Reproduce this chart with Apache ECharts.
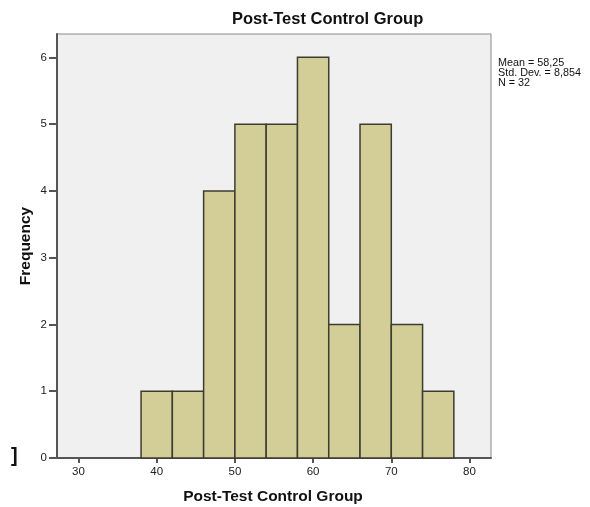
<!DOCTYPE html>
<html>
<head>
<meta charset="utf-8">
<script src="https://cdn.jsdelivr.net/npm/echarts@6/dist/echarts.min.js"></script>
<style>
html,body{margin:0;padding:0;background:#fff;}
#c{width:590px;height:507px;}
</style>
</head>
<body>
<div id="c"></div>
<script>
// Histogram data
const binStarts = [38, 42, 46, 50, 54, 58, 62, 66, 70, 74];
const binWidth = 4;
const frequencies = [1, 1, 4, 5, 5, 6, 2, 5, 2, 1];
const xTicks = [30, 40, 50, 60, 70, 80];
const yTicks = [0, 1, 2, 3, 4, 5, 6];
const titleText = 'Post-Test Control Group';
const xName = 'Post-Test Control Group';
const yName = 'Frequency';
const statsLines = ['Mean = 58,25', 'Std. Dev. = 8,854', 'N = 32'];

const barData = binStarts.map((s, i) => [s, s + binWidth, frequencies[i]]);

const chart = echarts.init(document.getElementById('c'), null, {renderer: 'canvas'});
const font = 'Liberation Sans, Arial, sans-serif';

chart.setOption({
  animation: false,
  backgroundColor: '#ffffff',
  grid: {
    left: 57, right: 99, top: 34, bottom: 49,
    show: true, backgroundColor: '#f0f0f0', borderColor: '#8a8a8a', borderWidth: 1
  },
  xAxis: {
    type: 'value', min: 27.25, max: 82.75,
    axisLine: {show: true, onZero: false, lineStyle: {color: '#555', width: 2}},
    axisTick: {show: true, length: 5, customValues: xTicks, lineStyle: {color: '#555', width: 2}},
    axisLabel: {customValues: xTicks, color: '#222', fontFamily: font, fontSize: 11.5, margin: 8},
    splitLine: {show: false}
  },
  yAxis: {
    type: 'value', min: 0, max: 6.35,
    axisLine: {show: true, lineStyle: {color: '#555', width: 2}},
    axisTick: {show: true, length: 8, customValues: yTicks, lineStyle: {color: '#555', width: 2}},
    axisLabel: {customValues: yTicks, color: '#222', fontFamily: font, fontSize: 11.5, margin: 10},
    splitLine: {show: false}
  },
  series: [{
    type: 'custom',
    data: barData,
    encode: {x: [0, 1], y: 2},
    renderItem: function (params, api) {
      const p0 = api.coord([api.value(0), 0]);
      const p1 = api.coord([api.value(1), api.value(2)]);
      return {
        type: 'rect',
        shape: {x: p0[0], y: p1[1], width: p1[0] - p0[0], height: p0[1] - p1[1]},
        style: {fill: '#d3ce98', stroke: '#3c3c30', lineWidth: 1.5}
      };
    }
  }],
  graphic: [
    {type: 'text', left: 232, top: 11,
     style: {text: titleText, font: 'bold 16.5px ' + font, fill: '#111'}},
    {type: 'text', left: 498, top: 58,
     style: {text: statsLines.join('\n'), font: '10.8px ' + font, lineHeight: 9.8, fill: '#111'}},
    {type: 'text', x: 273, y: 497,
     style: {text: xName, font: 'bold 15.5px ' + font, fill: '#111', align: 'center', verticalAlign: 'middle'}},
    {type: 'text', x: 26, y: 246, rotation: Math.PI / 2,
     style: {text: yName, font: 'bold 15.5px ' + font, fill: '#111', align: 'center', verticalAlign: 'middle'}},
    {type: 'text', left: 11, top: 446,
     style: {text: ']', font: 'bold 20px ' + font, fill: '#111'}}
  ]
});
</script>
</body>
</html>
